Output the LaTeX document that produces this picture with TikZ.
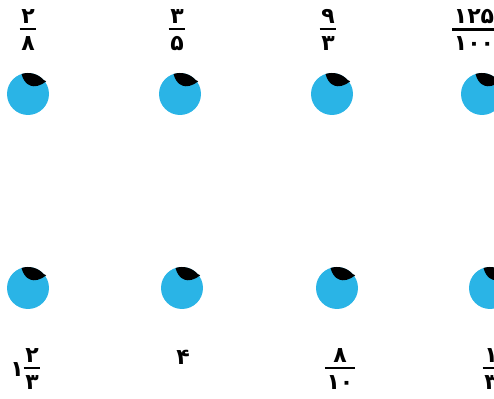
\documentclass[tikz,border=0pt]{standalone}
\usepackage{fontspec}
\newfontfamily\fafont[Script=Arabic]{DejaVu Sans}
\definecolor{dotblue}{RGB}{42,180,230}
\newcommand\fa{\fafont\bfseries\fontsize{16.5}{18}\selectfont}
\newcommand\frc[2]{\vbox{\halign{\hfil\kern1.2pt##\kern1.2pt\hfil\cr
  \fa #1\cr\noalign{\kern3.5pt\hrule height 1.6pt\kern4.5pt}\fa #2\cr}}}

\begin{document}
\begin{tikzpicture}[
    x=0.75pt, y=0.75pt,
    dot/.style={circle, fill=dotblue, minimum size=31.5pt, inner sep=0pt},
    lbl/.style={inner sep=0pt, font=\fa}
]
\useasboundingbox (0,0) rectangle (494,399);

% pins, top row
\node[dot] (p1) at (28,305) {};
\node[dot] (p2) at (180,305) {};
\node[dot] (p3) at (332,305) {};
\node[dot] (p4) at (482,305) {};
% pins, bottom row
\node[dot] (q1) at (28,111) {};
\node[dot] (q2) at (182,111) {};
\node[dot] (q3) at (337,111) {};
\node[dot] (q4) at (490,111) {};

% black caps on the pins
\foreach \p in {p1,p2,p3,p4,q1,q2,q3,q4}
  \fill ([shift={(108:15.75pt)}]\p.center) arc[start angle=108, end angle=42, radius=15.75pt]
    -- ([shift={(35:16.6pt)}]\p.center)
    .. controls ([shift={(4.5pt,2.2pt)}]\p.center) and ([shift={(-2.8pt,6.5pt)}]\p.center) .. cycle;

% top labels
\node[lbl] (a1) at (28,369) {\frc{۲}{۸}};
\node[lbl] (a2) at (177,369) {\frc{۳}{۵}};
\node[lbl] (a3) at (328,369) {\frc{۹}{۳}};
\node[lbl] (a4) at (474,369) {\frc{۱۲۵}{۱۰۰}};
% bottom labels
\node[lbl] (b1w) at (17,29) {۱};
\node[lbl] (b1) at (32,30) {\frc{۲}{۳}};
\node[lbl] (b2) at (183,42) {۴};
\node[lbl] (b3) at (340,30) {\frc{۸}{۱۰}};
\node[lbl] (b4) at (491,30) {\frc{۱}{۳}};
\end{tikzpicture}
\end{document}
